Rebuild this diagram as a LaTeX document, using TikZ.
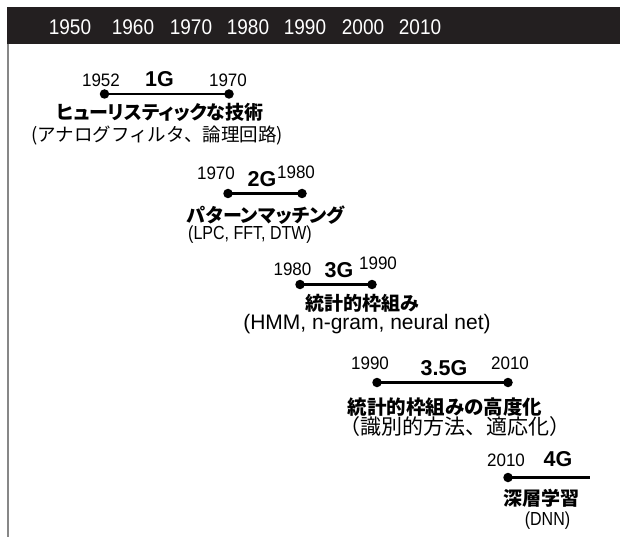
\documentclass[tikz,border=0pt]{standalone}
\usepackage{fontspec}
\setmainfont{Liberation Sans}
\newfontfamily\jp{Noto Sans CJK JP}[RawFeature=+palt]
\newfontfamily\jpn{Noto Sans CJK JP}
\newcommand{\hdy}[1]{\scalebox{1}[1.12]{#1}}
\newcommand{\yry}[1]{\scalebox{1}[1.06]{#1}}
\newcommand{\suby}[1]{\scalebox{1}[1.18]{#1}}
\begin{document}
\begin{tikzpicture}[x=1pt,y=-1pt,
  hdr/.style={anchor=base,text=white,font=\fontsize{19}{19}\selectfont,inner sep=0pt},
  yr/.style={anchor=base,font=\fontsize{17}{17}\selectfont,inner sep=0pt},
  gen/.style={anchor=base,font=\fontsize{21.5}{21.5}\selectfont\bfseries,inner sep=0pt},
  ttl/.style={anchor=center,font=\jp\bfseries\fontsize{19}{19}\selectfont,inner sep=0pt},
  subj/.style={anchor=center,font=\jpn\fontsize{18.5}{18.5}\selectfont,inner sep=0pt},
  subl/.style={anchor=center,font=\fontsize{18}{18}\selectfont,inner sep=0pt},
  dot/.style={circle,fill=black,inner sep=0pt,minimum size=9.5pt},
  tl/.style={line width=2.8pt}]
\useasboundingbox (0,0) rectangle (620,537);
\fill[fill={rgb,255:red,35;green,31;blue,32}] (6.5,7) rectangle (620,44.3);
\draw[draw={rgb,255:red,135;green,135;blue,135},line width=1.8pt] (7.7,44) -- (7.7,537);
\node[hdr] (h1950) at (70,35) {\hdy{1950}};
\node[hdr] (h1960) at (133,35) {\hdy{1960}};
\node[hdr] (h1970) at (191,35) {\hdy{1970}};
\node[hdr] (h1980) at (248,35) {\hdy{1980}};
\node[hdr] (h1990) at (305,35) {\hdy{1990}};
\node[hdr] (h2000) at (363,35) {\hdy{2000}};
\node[hdr] (h2010) at (420,35) {\hdy{2010}};
% 1G
\node[yr] (y1a) at (101,87) {\yry{1952}};
\node[gen] (g1) at (159.5,87) {1G};
\node[yr] (y1b) at (228,87) {\yry{1970}};
\node[dot] (d1a) at (104.5,94) {};
\node[dot] (d1b) at (229,94) {};
\draw[tl] (d1a.center) -- (d1b.center);
\node[ttl] (t1) at (160,112) {ヒューリスティックな技術};
\node[subj] (s1) at (157,136) {(アナログフィルタ、論理回路)};
% 2G
\node[yr] (y2a) at (216,180) {\yry{1970}};
\node[gen] (g2) at (262,186) {2G};
\node[yr] (y2b) at (296,179) {\yry{1980}};
\node[dot] (d2a) at (228,193.5) {};
\node[dot] (d2b) at (302,193.5) {};
\draw[tl] (d2a.center) -- (d2b.center);
\node[ttl] (t2) at (266,215) {パターンマッチング};
\node[subl,font=\fontsize{16}{16}\selectfont] (s2) at (250,235) {\suby{(LPC, FFT, DTW)}};
% 3G
\node[yr] (y3a) at (292.5,275) {\yry{1980}};
\node[gen] (g3) at (339,277) {3G};
\node[yr] (y3b) at (378,269) {\yry{1990}};
\node[dot] (d3a) at (300,284.5) {};
\node[dot] (d3b) at (372,284.5) {};
\draw[tl] (d3a.center) -- (d3b.center);
\node[ttl] (t3) at (362,303) {統計的枠組み};
\node[subl,font=\fontsize{21}{21}\selectfont] (s3) at (367,324) {(HMM, n-gram, neural net)};
% 3.5G
\node[yr] (y4a) at (370,369) {\yry{1990}};
\node[gen] (g4) at (444,375) {3.5G};
\node[yr] (y4b) at (510,369) {\yry{2010}};
\node[dot] (d4a) at (377,382.5) {};
\node[dot] (d4b) at (508,382.5) {};
\draw[tl] (d4a.center) -- (d4b.center);
\node[ttl,font=\jp\bfseries\fontsize{19.5}{19.5}\selectfont] (t4) at (445,407) {統計的枠組みの高度化};
\node[subj,font=\jpn\fontsize{21}{21}\selectfont] (s4) at (455,427) {（識別的方法、適応化）};
% 4G
\node[yr] (y5a) at (506,466) {\yry{2010}};
\node[gen] (g5) at (558,466) {4G};
\node[dot] (d5a) at (508,477.5) {};
\coordinate (e5) at (590,477.5);
\draw[tl] (d5a.center) -- (e5);
\node[ttl] (t5) at (541,498) {深層学習};
\node[subl,font=\fontsize{16}{16}\selectfont] (s5) at (547.5,521) {\suby{(DNN)}};
\end{tikzpicture}
\end{document}
